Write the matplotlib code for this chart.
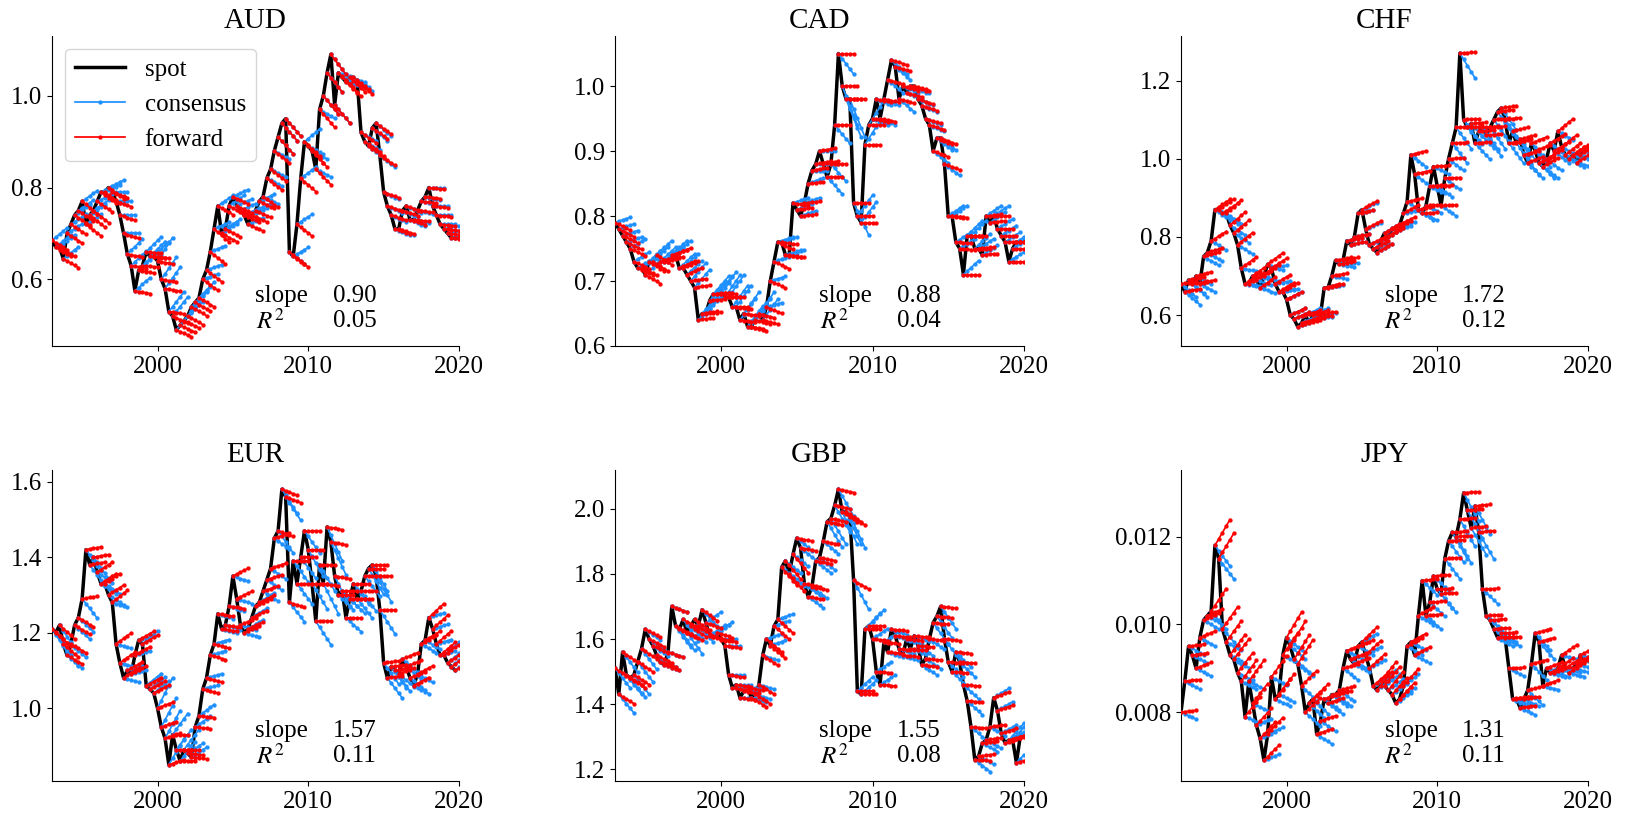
import numpy as np
import matplotlib
matplotlib.use("Agg")
import matplotlib.pyplot as plt
from matplotlib.ticker import MultipleLocator, FormatStrFormatter

plt.rcParams.update({
    "font.family": "serif",
    "font.serif": ["Liberation Serif", "DejaVu Serif"],
    "mathtext.fontset": "stix",
    "font.size": 18,
})

# ---------------------------------------------------------------------------
# Data: quarterly spot rates (USD per unit), 1993Q1 .. 2019Q4
# ---------------------------------------------------------------------------
first_year = 1993
n_years = 27
quarters = first_year + np.arange(n_years * 4) * 0.25
horizons = np.array([0.0, 0.25, 0.5, 0.75, 1.0])   # forecast horizon in years

spot_aud = [0.685, 0.67, 0.67, 0.645, 0.70, 0.72, 0.74, 0.75, 0.77, 0.72, 0.74, 0.75,
            0.77, 0.79, 0.79, 0.80, 0.79, 0.77, 0.74, 0.70, 0.655, 0.63, 0.575, 0.62,
            0.63, 0.66, 0.65, 0.65, 0.64, 0.60, 0.58, 0.53, 0.52, 0.49, 0.50, 0.51,
            0.52, 0.54, 0.55, 0.56, 0.60, 0.62, 0.66, 0.71, 0.76, 0.70, 0.71, 0.76,
            0.78, 0.76, 0.75, 0.74, 0.72, 0.74, 0.75, 0.77, 0.78, 0.82, 0.84, 0.88,
            0.91, 0.94, 0.95, 0.66, 0.65, 0.72, 0.82, 0.90, 0.89, 0.88, 0.84, 0.97,
            1.00, 1.05, 1.09, 0.98, 1.05, 1.04, 1.03, 1.04, 1.04, 1.03, 0.92, 0.90,
            0.89, 0.93, 0.94, 0.87, 0.79, 0.76, 0.74, 0.71, 0.71, 0.75, 0.76, 0.73,
            0.73, 0.75, 0.77, 0.78, 0.80, 0.76, 0.74, 0.72, 0.71, 0.70, 0.69, 0.69]

spot_cad = [0.79, 0.78, 0.77, 0.76, 0.75, 0.73, 0.72, 0.72, 0.71, 0.73, 0.73, 0.74,
            0.73, 0.73, 0.73, 0.74, 0.74, 0.72, 0.72, 0.71, 0.70, 0.69, 0.64, 0.65,
            0.65, 0.67, 0.68, 0.68, 0.68, 0.675, 0.675, 0.66, 0.66, 0.64, 0.65, 0.63,
            0.63, 0.64, 0.65, 0.64, 0.66, 0.70, 0.73, 0.76, 0.76, 0.74, 0.74, 0.82,
            0.81, 0.80, 0.82, 0.85, 0.87, 0.88, 0.90, 0.88, 0.86, 0.88, 0.94, 1.05,
            1.00, 0.98, 0.98, 0.82, 0.80, 0.79, 0.91, 0.94, 0.95, 0.98, 0.95, 0.98,
            1.01, 1.04, 1.03, 0.98, 1.00, 0.99, 1.00, 1.00, 0.98, 0.97, 0.95, 0.94,
            0.90, 0.92, 0.92, 0.88, 0.80, 0.80, 0.76, 0.75, 0.71, 0.77, 0.77, 0.75,
            0.75, 0.74, 0.80, 0.79, 0.80, 0.78, 0.77, 0.76, 0.73, 0.75, 0.76, 0.76]

spot_chf = [0.68, 0.66, 0.69, 0.68, 0.70, 0.68, 0.75, 0.76, 0.79, 0.87, 0.87, 0.86,
            0.86, 0.83, 0.81, 0.78, 0.72, 0.68, 0.68, 0.70, 0.69, 0.67, 0.70, 0.73,
            0.72, 0.68, 0.66, 0.66, 0.64, 0.60, 0.59, 0.57, 0.58, 0.60, 0.58, 0.60,
            0.59, 0.60, 0.67, 0.67, 0.70, 0.74, 0.73, 0.74, 0.79, 0.78, 0.80, 0.86,
            0.87, 0.82, 0.78, 0.77, 0.76, 0.79, 0.81, 0.80, 0.82, 0.82, 0.83, 0.86,
            0.89, 1.01, 0.96, 0.87, 0.86, 0.88, 0.93, 0.98, 0.93, 0.88, 0.95, 1.00,
            1.04, 1.08, 1.27, 1.10, 1.08, 1.09, 1.04, 1.07, 1.08, 1.06, 1.08, 1.10,
            1.12, 1.13, 1.10, 1.04, 1.07, 1.04, 1.05, 1.01, 0.99, 1.04, 1.02, 0.99,
            0.98, 1.00, 1.04, 1.02, 1.07, 1.03, 1.01, 1.00, 1.01, 0.99, 1.01, 1.02]

spot_eur = [1.21, 1.20, 1.22, 1.17, 1.14, 1.17, 1.22, 1.24, 1.29, 1.42, 1.38, 1.40,
            1.36, 1.33, 1.33, 1.30, 1.28, 1.17, 1.12, 1.08, 1.10, 1.09, 1.14, 1.18,
            1.17, 1.06, 1.05, 1.04, 1.00, 0.95, 0.92, 0.85, 0.93, 0.89, 0.86, 0.89,
            0.88, 0.87, 0.95, 0.98, 1.05, 1.08, 1.14, 1.17, 1.25, 1.21, 1.22, 1.27,
            1.35, 1.29, 1.22, 1.20, 1.21, 1.24, 1.27, 1.28, 1.31, 1.34, 1.37, 1.45,
            1.47, 1.58, 1.56, 1.28, 1.39, 1.33, 1.40, 1.47, 1.42, 1.33, 1.23, 1.38,
            1.33, 1.48, 1.44, 1.35, 1.30, 1.31, 1.24, 1.29, 1.33, 1.29, 1.31, 1.35,
            1.37, 1.38, 1.35, 1.26, 1.12, 1.08, 1.11, 1.10, 1.09, 1.13, 1.11, 1.08,
            1.06, 1.09, 1.17, 1.18, 1.24, 1.21, 1.17, 1.14, 1.14, 1.12, 1.11, 1.10]

spot_gbp = [1.51, 1.43, 1.56, 1.49, 1.48, 1.49, 1.53, 1.57, 1.63, 1.60, 1.58, 1.55,
            1.53, 1.52, 1.56, 1.70, 1.64, 1.63, 1.66, 1.62, 1.64, 1.66, 1.64, 1.69,
            1.65, 1.61, 1.61, 1.62, 1.60, 1.58, 1.49, 1.45, 1.46, 1.42, 1.44, 1.45,
            1.42, 1.43, 1.46, 1.55, 1.60, 1.58, 1.64, 1.66, 1.82, 1.84, 1.80, 1.86,
            1.91, 1.88, 1.77, 1.73, 1.76, 1.84, 1.85, 1.90, 1.96, 1.97, 2.01, 2.06,
            1.99, 1.99, 1.98, 1.78, 1.44, 1.43, 1.63, 1.64, 1.60, 1.50, 1.46, 1.59,
            1.56, 1.63, 1.61, 1.57, 1.55, 1.60, 1.57, 1.61, 1.58, 1.52, 1.54, 1.60,
            1.65, 1.67, 1.70, 1.60, 1.53, 1.50, 1.56, 1.53, 1.46, 1.41, 1.33, 1.23,
            1.24, 1.28, 1.29, 1.33, 1.42, 1.38, 1.31, 1.28, 1.29, 1.29, 1.22, 1.30]

spot_jpy = [0.0080, 0.0087, 0.0095, 0.0093, 0.0090, 0.0097, 0.0101, 0.0102,
            0.0103, 0.0118, 0.0115, 0.0099, 0.0096, 0.0093, 0.0092, 0.0089,
            0.0087, 0.0079, 0.0087, 0.0082, 0.0077, 0.0074, 0.0069, 0.0075,
            0.0088, 0.0083, 0.0084, 0.0093, 0.0097, 0.0095, 0.0092, 0.0091,
            0.0086, 0.0080, 0.0082, 0.0083, 0.0075, 0.0078, 0.0083, 0.0082,
            0.0084, 0.0084, 0.0085, 0.0090, 0.0094, 0.0092, 0.0091, 0.0095,
            0.0096, 0.0093, 0.0090, 0.0086, 0.0085, 0.0087, 0.0086, 0.0085,
            0.0084, 0.0082, 0.0083, 0.0086, 0.0095, 0.0096, 0.0093, 0.0102,
            0.0110, 0.0102, 0.0105, 0.0111, 0.0108, 0.0107, 0.0115, 0.0119,
            0.0121, 0.0120, 0.0124, 0.0130, 0.0126, 0.0122, 0.0127, 0.0121,
            0.0108, 0.0102, 0.0101, 0.0099, 0.0097, 0.0098, 0.0097, 0.0090,
            0.0083, 0.0083, 0.0081, 0.0083, 0.0085, 0.0091, 0.0098, 0.0096,
            0.0086, 0.0090, 0.0089, 0.0089, 0.0090, 0.0093, 0.0090, 0.0089,
            0.0090, 0.0091, 0.0093, 0.0092]

# Annualised forward premium (% per year), one value per calendar year 1993..2019
fwd_aud = [-3.0, -3.0, -3.5, -3.0, -1.5, -1.0, -0.5, -1.0, -3.0, -3.5, -4.0, -2.5, -2.0, -2.0,
           -3.0, -4.0, -3.5, -4.0, -4.0, -3.0, -2.5, -2.5, -1.5, -1.5, -0.5, -0.5, -0.5]
fwd_cad = [-1.5, -1.5, -2.0, 1.0, 1.5, 0.5, 0.3, 0.0, -0.5, -1.0, -1.5, -0.5, 0.3, 0.5,
           0.0, 0.0, 0.0, -0.5, -0.7, -0.7, -0.8, -1.0, -0.3, 0.0, 0.3, 0.0, 0.0]
fwd_chf = [1.0, 1.5, 3.0, 4.0, 4.0, 4.0, 3.5, 3.0, 2.0, 1.5, 1.0, 1.0, 2.5, 3.0,
           2.5, 1.0, 0.3, 0.2, 0.2, 0.3, 0.3, 0.5, 1.0, 1.5, 2.2, 3.0, 2.5]
fwd_eur = [-3.0, -2.0, 0.5, 2.0, 2.5, 2.0, 2.0, 1.5, 0.0, -0.5, -1.0, -0.5, 1.5, 1.5,
           1.0, -1.0, 0.0, 0.0, -0.5, 0.0, 0.0, 0.0, 0.5, 1.5, 2.0, 3.0, 2.5]
fwd_gbp = [-2.0, -2.0, -1.5, -1.0, -1.5, -2.0, -1.0, -0.5, -0.5, -2.0, -2.5, -3.0, -0.5, -0.5,
           -0.5, -1.5, 0.0, -0.3, -0.3, -0.3, -0.3, -0.3, -0.3, -0.3, 0.5, 1.2, 1.0]
fwd_jpy = [0.5, 1.5, 5.0, 5.0, 5.5, 5.0, 5.5, 6.0, 4.0, 1.5, 1.0, 1.5, 3.5, 5.0,
           4.5, 2.0, 0.3, 0.2, 0.2, 0.3, 0.2, 0.2, 0.6, 1.0, 1.5, 2.5, 2.0]

# Consensus survey: expected change (% per year), one value per calendar year 1993..2019
cons_aud = [4.0, 3.0, 3.0, 2.0, 0.0, 5.0, 5.0, 8.0, 8.0, 6.0, 2.0, 3.0, 2.0, 2.0,
            -2.0, -4.0, 3.0, -2.0, -4.0, -1.0, -2.0, -3.0, -2.0, -2.0, -1.0, 0.0, 1.0]
cons_cad = [1.0, 2.0, 3.0, 3.0, 3.0, 4.0, 4.0, 5.0, 5.0, 5.0, 1.0, 1.0, 1.0, 0.0,
            -3.0, -6.0, 4.0, -1.0, -2.0, -1.0, -1.0, -2.0, 2.0, 3.0, 2.0, 2.0, 2.0]
cons_chf = [-5.0, -3.0, -3.0, -3.0, -1.0, -2.0, 1.0, 3.0, 3.0, 1.0, -1.0, 1.0, 2.0, 3.0,
            1.0, -3.0, -2.0, -3.0, -5.0, -4.0, -5.0, -5.0, -5.0, -4.0, -3.0, -2.0, -1.0]
cons_eur = [-5.0, -3.0, -4.0, -2.0, -1.0, 1.0, 3.0, 8.0, 6.0, 3.0, 1.0, -1.0, -1.0, 2.0,
            -2.0, -4.0, -4.0, -5.0, -6.0, -3.0, -4.0, -5.0, -5.0, -3.0, -2.0, 1.0, 3.0]
cons_gbp = [-4.0, -4.0, -2.0, -1.0, -4.0, -3.0, 2.0, 0.0, 0.0, -1.0, 1.0, -2.0, -2.0, -2.0,
            -4.0, -5.0, 3.0, 2.0, -1.0, -1.0, -2.0, -4.0, -3.0, -3.0, -2.0, 2.0, 4.0]
cons_jpy = [-2.0, -2.0, -4.0, -2.0, -2.0, 2.0, -2.0, -3.0, -4.0, -3.0, -3.0, -2.0, 2.0, 3.0,
            3.0, -2.0, -3.0, -4.0, -5.0, -5.0, -3.0, -2.0, -2.0, -4.0, -1.0, -1.0, -1.0]

currencies = ["AUD", "CAD", "CHF", "EUR", "GBP", "JPY"]
spots = [spot_aud, spot_cad, spot_chf, spot_eur, spot_gbp, spot_jpy]
forwards = [fwd_aud, fwd_cad, fwd_chf, fwd_eur, fwd_gbp, fwd_jpy]
consensus = [cons_aud, cons_cad, cons_chf, cons_eur, cons_gbp, cons_jpy]
slope_labels = ["0.90", "0.88", "1.72", "1.57", "1.55", "1.31"]
r2_labels = ["0.05", "0.04", "0.12", "0.11", "0.08", "0.11"]

# Axis settings per panel
y_limits = [(0.455, 1.13), (0.600, 1.077), (0.521, 1.314),
            (0.807, 1.631), (1.164, 2.119), (0.00643, 0.01352)]
y_steps = [0.2, 0.1, 0.2, 0.2, 0.2, 0.002]
y_formats = ["%.1f", "%.1f", "%.1f", "%.1f", "%.1f", "%.3f"]

# ---------------------------------------------------------------------------
W, H = 1629, 816
fig = plt.figure(figsize=(W / 100, H / 100), dpi=100)

col_px = [(52, 407), (615, 409), (1181, 407)]
row_px = [(36, 346), (470, 781)]

CONS_COLOR = "#1E90FF"
FWD_COLOR = "#FF0000"
SEG_LW = 1.25
SEG_MS = 4.2

for k, cur in enumerate(currencies):
    r, c = divmod(k, 3)
    left, width = col_px[c]
    top, bottom = row_px[r]
    ax = fig.add_axes([left / W, 1 - bottom / H, width / W, (bottom - top) / H])

    spot = np.asarray(spots[k])
    fwd = np.asarray(forwards[k]) / 100.0
    cons = np.asarray(consensus[k]) / 100.0

    ax.plot(quarters, spot, color="black", lw=2.5, zorder=1, label="spot")

    for i, (t, s) in enumerate(zip(quarters, spot)):
        yr = i // 4
        ax.plot(t + horizons, s * (1 + cons[yr] * horizons), color=CONS_COLOR,
                lw=SEG_LW, marker=".", ms=SEG_MS, zorder=2,
                label="consensus" if i == 0 else None)
    for i, (t, s) in enumerate(zip(quarters, spot)):
        yr = i // 4
        ax.plot(t + horizons, s * (1 + fwd[yr] * horizons), color=FWD_COLOR,
                lw=SEG_LW, marker=".", ms=SEG_MS, zorder=3,
                label="forward" if i == 0 else None)

    ax.set_xlim(1993.0, 2020.0)
    ax.set_ylim(*y_limits[k])
    ax.set_xticks([2000, 2010, 2020])
    ax.yaxis.set_major_locator(MultipleLocator(y_steps[k]))
    ax.yaxis.set_major_formatter(FormatStrFormatter(y_formats[k]))
    ax.tick_params(labelsize=18)
    ax.spines["top"].set_visible(False)
    ax.spines["right"].set_visible(False)
    ax.set_title(cur, fontsize=21)

    ax.text(0.50, 0.16, "slope", transform=ax.transAxes, fontsize=18, va="center")
    ax.text(0.69, 0.16, slope_labels[k], transform=ax.transAxes, fontsize=18, va="center")
    ax.text(0.50, 0.08, r"$R^2$", transform=ax.transAxes, fontsize=18, va="center")
    ax.text(0.69, 0.08, r2_labels[k], transform=ax.transAxes, fontsize=18, va="center")

    if k == 0:
        ax.legend(loc="upper left", fontsize=18)

fig.savefig("out.png", dpi=100)
